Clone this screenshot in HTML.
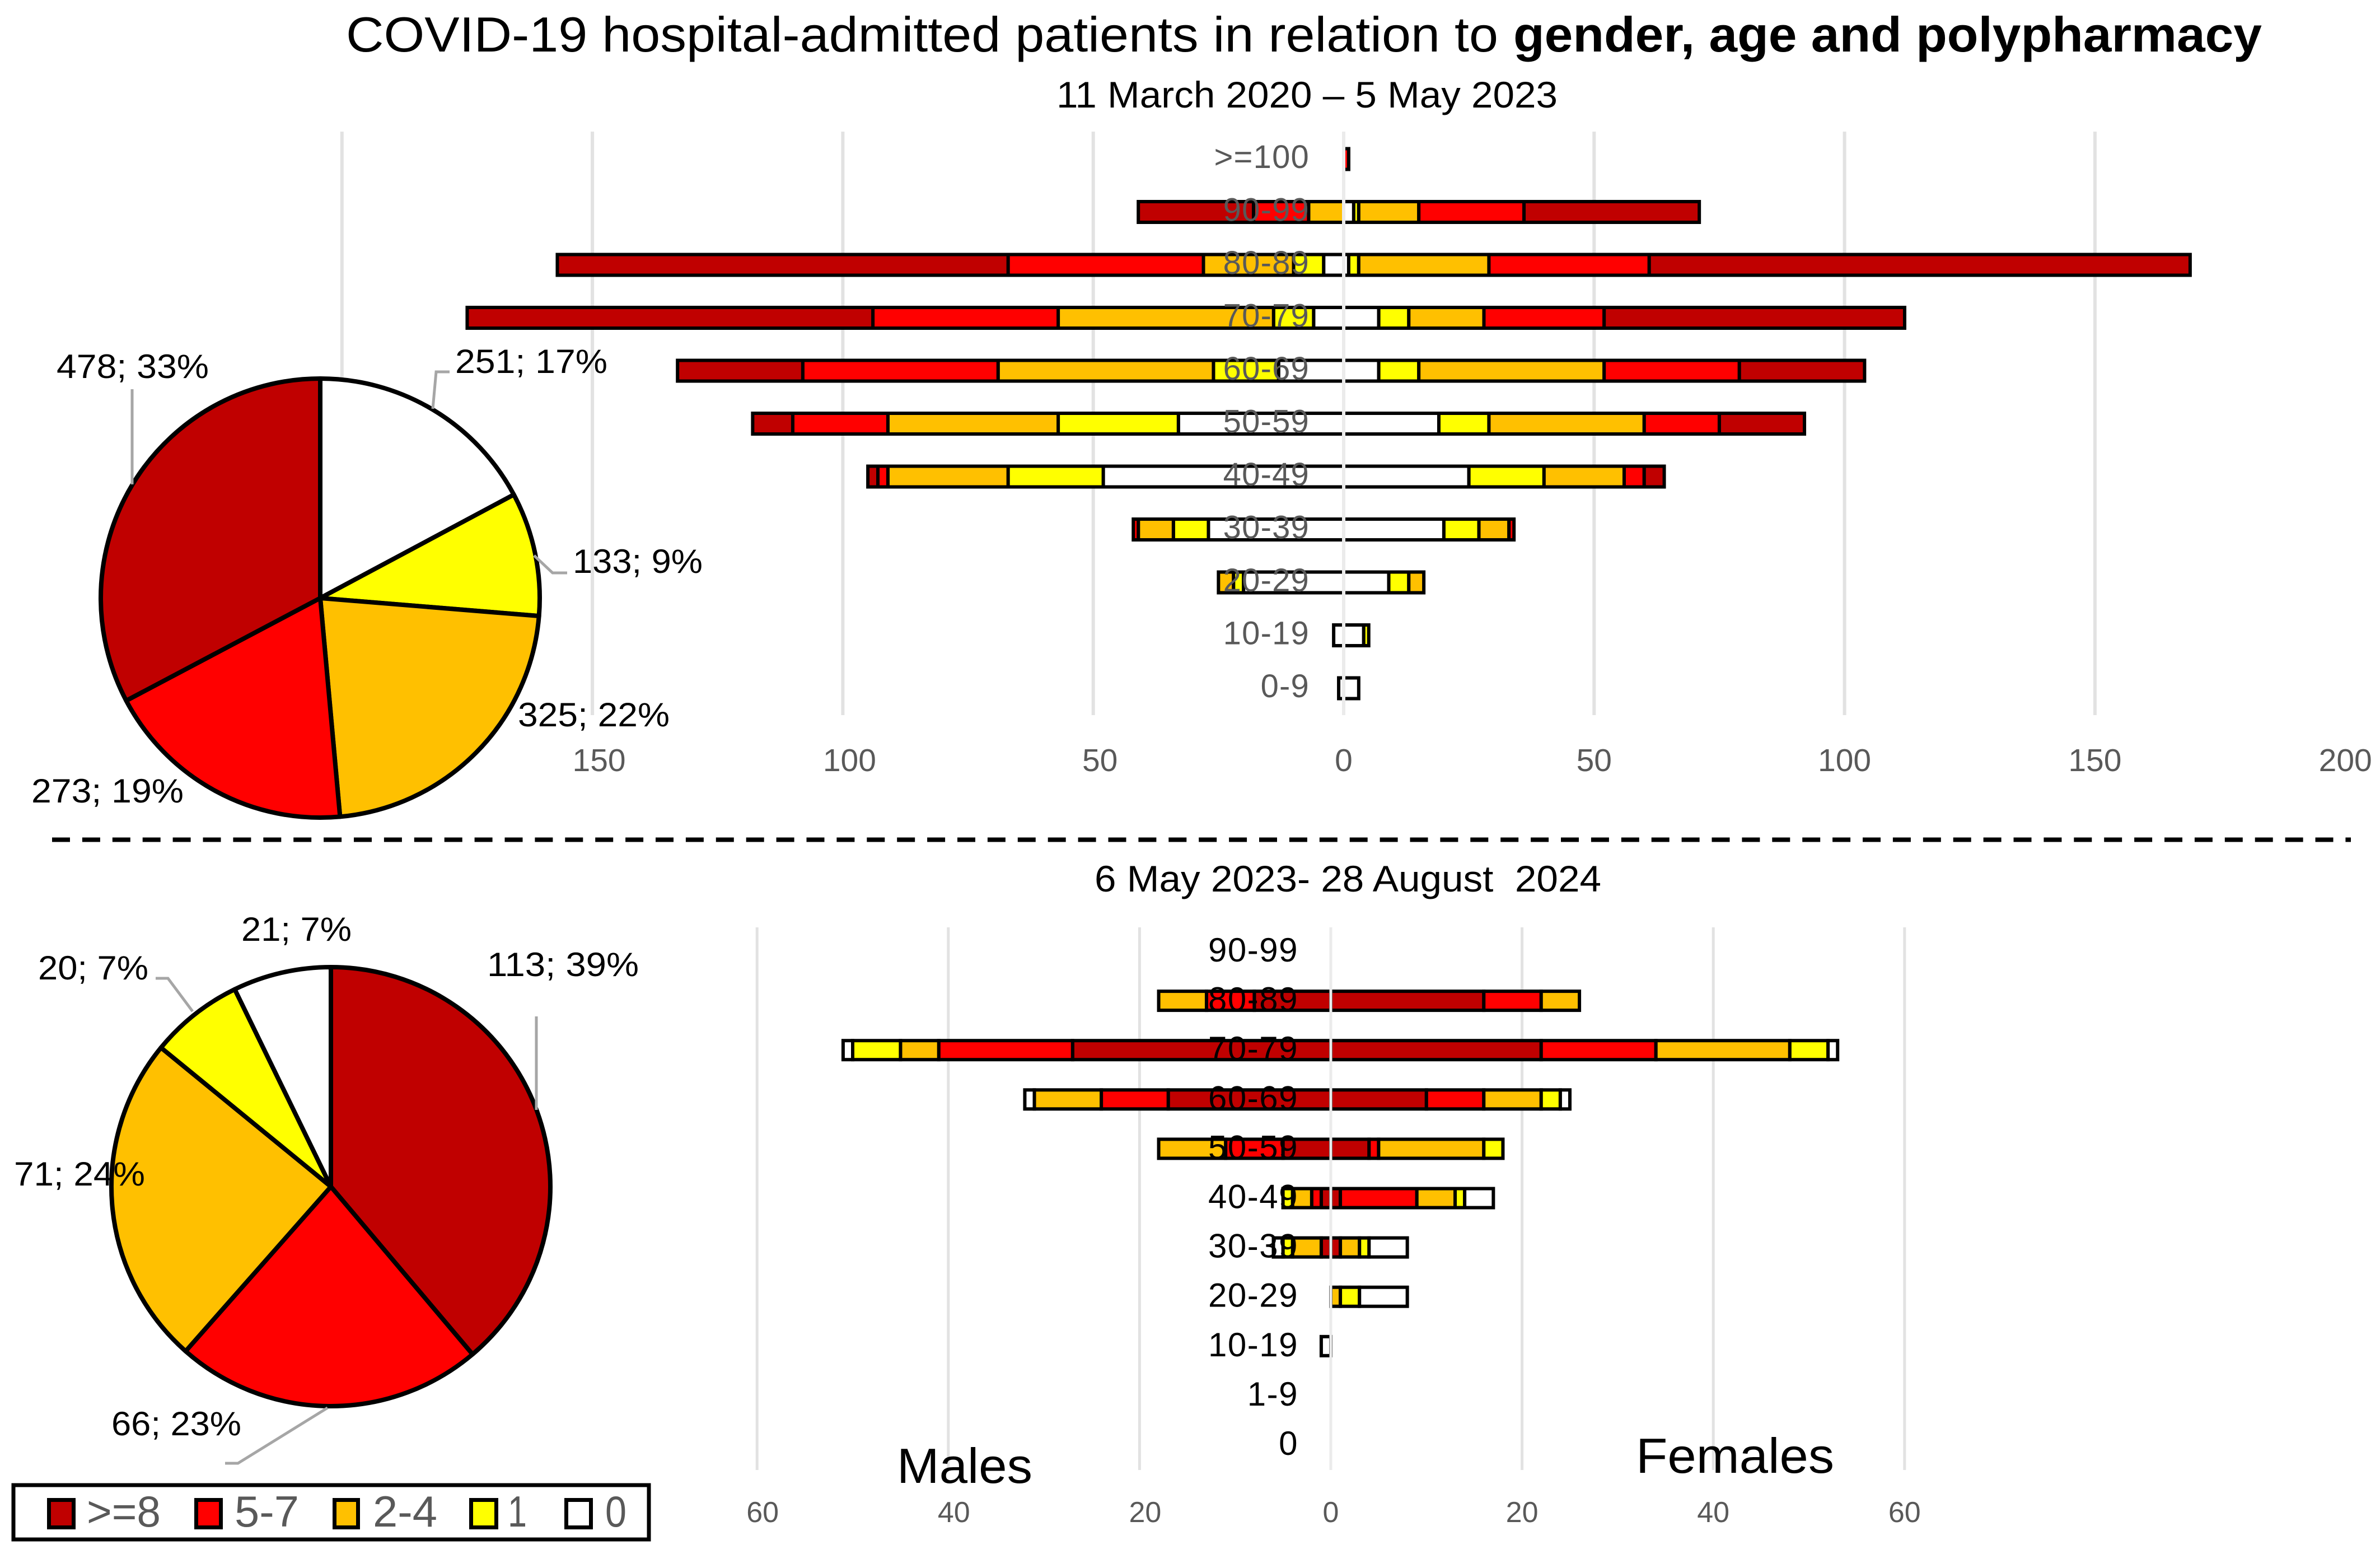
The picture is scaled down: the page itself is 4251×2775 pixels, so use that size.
<!DOCTYPE html>
<html lang="en">
<head>
<meta charset="utf-8">
<title>COVID-19 hospital-admitted patients</title>
<style>
  html, body { margin: 0; padding: 0; background: #ffffff; }
  svg { display: block; font-family: "Liberation Sans", sans-serif; }
</style>
</head>
<body>
<svg id="chart" xmlns="http://www.w3.org/2000/svg" width="4251" height="2775" viewBox="0 0 4251 2775">
  <rect x="0" y="0" width="4251" height="2775" fill="#ffffff"/>

  <g id="layer-top-grid"></g>
  <g id="layer-bottom-grid"></g>
  <g id="layer-top-bars"></g>
  <g id="layer-bottom-bars"></g>
  <g id="layer-zero"></g>
  <g id="layer-labels"></g>
  <g id="layer-pies"></g>

  <text x="618" y="92" font-size="88" fill="#000" textLength="2058" lengthAdjust="spacingAndGlyphs">COVID-19 hospital-admitted patients in relation to</text>
  <text x="2703" y="92" font-size="88" font-weight="700" fill="#000" textLength="1337" lengthAdjust="spacingAndGlyphs">gender, age and polypharmacy</text>
  <text x="1887" y="192" font-size="66" fill="#000" textLength="895" lengthAdjust="spacingAndGlyphs">11 March 2020 – 5 May 2023</text>
  <text x="1955" y="1592" font-size="66" fill="#000" textLength="905" lengthAdjust="spacingAndGlyphs" xml:space="preserve">6 May 2023- 28 August  2024</text>

  <line x1="93" y1="1499.5" x2="4199" y2="1499.5" stroke="#000" stroke-width="8" stroke-dasharray="32 21.9"/>

  <g fill="none" stroke="#a6a6a6" stroke-width="5">
    <polyline points="236,695 236,865"/>
    <polyline points="803,664 779,664 773,730"/>
    <polyline points="1013,1023 987,1023 954,992"/>
  </g>
  <g fill="none" stroke="#a6a6a6" stroke-width="5">
    <polyline points="958,1815 958,1982"/>
    <polyline points="278,1747 300,1747 344,1806"/>
    <polyline points="585,2514 425,2613 402,2613"/>
  </g>

  <g font-size="60" fill="#000">
    <text x="101" y="675" textLength="272" lengthAdjust="spacingAndGlyphs">478; 33%</text>
    <text x="813" y="666" textLength="272" lengthAdjust="spacingAndGlyphs">251; 17%</text>
    <text x="1023" y="1023" textLength="232" lengthAdjust="spacingAndGlyphs">133; 9%</text>
    <text x="925" y="1297" textLength="271" lengthAdjust="spacingAndGlyphs">325; 22%</text>
    <text x="56" y="1433" textLength="272" lengthAdjust="spacingAndGlyphs">273; 19%</text>
  </g>
  <g font-size="60" fill="#000">
    <text x="431" y="1680" textLength="197" lengthAdjust="spacingAndGlyphs">21; 7%</text>
    <text x="870" y="1743" textLength="271" lengthAdjust="spacingAndGlyphs">113; 39%</text>
    <text x="68" y="1749" textLength="197" lengthAdjust="spacingAndGlyphs">20; 7%</text>
    <text x="25" y="2117" textLength="234" lengthAdjust="spacingAndGlyphs">71; 24%</text>
    <text x="199" y="2563" textLength="232" lengthAdjust="spacingAndGlyphs">66; 23%</text>
  </g>

  <text x="1602" y="2648" font-size="88" fill="#000" textLength="242" lengthAdjust="spacingAndGlyphs">Males</text>
  <text x="2922" y="2630" font-size="88" fill="#000" textLength="354" lengthAdjust="spacingAndGlyphs">Females</text>

  <g>
    <rect x="24" y="2652" width="1135" height="97" fill="#fff" stroke="#000" stroke-width="7"/>
    <g stroke="#000" stroke-width="7" font-size="76">
      <rect x="87.5" y="2678.5" width="44" height="49" fill="#c00000"/>
      <rect x="350.5" y="2678.5" width="44" height="49" fill="#ff0000"/>
      <rect x="597.5" y="2678.5" width="42" height="49" fill="#ffc000"/>
      <rect x="841.5" y="2678.5" width="45" height="49" fill="#ffff00"/>
      <rect x="1011.5" y="2678.5" width="44" height="49" fill="#ffffff"/>
    </g>
    <g font-size="78" fill="#595959">
      <text x="155" y="2726" textLength="132" lengthAdjust="spacingAndGlyphs">&gt;=8</text>
      <text x="419" y="2726" textLength="115" lengthAdjust="spacingAndGlyphs">5-7</text>
      <text x="666" y="2726" textLength="115" lengthAdjust="spacingAndGlyphs">2-4</text>
      <text x="907" y="2726" textLength="34" lengthAdjust="spacingAndGlyphs">1</text>
      <text x="1081" y="2726" textLength="38" lengthAdjust="spacingAndGlyphs">0</text>
    </g>
  </g>
</svg>

<script>
// ---------- Period 1: 11 March 2020 – 5 May 2023 ----------
const topAgeGroups = ['>=100','90-99','80-89','70-79','60-69','50-59','40-49','30-39','20-29','10-19','0-9'];
const topMales0      = [0, 0, 4, 6,13,33,48,27,20, 2, 1];
const topMales1      = [0, 0, 6, 8,13,24,19, 7, 2, 0, 0];
const topMales2to4   = [0, 7,18,43,43,34,24, 7, 3, 0, 0];
const topMales5to7   = [0,11,39,37,39,19, 2, 1, 0, 0, 0];
const topMales8plus  = [0,23,90,81,25, 8, 2, 0, 0, 0, 0];
const topFemales0     = [0, 2, 1, 7, 7,19,25,20, 9, 4, 3];
const topFemales1     = [0, 1, 2, 6, 8,10,15, 7, 4, 1, 0];
const topFemales2to4  = [0,12,26,15,37,31,16, 6, 3, 0, 0];
const topFemales5to7  = [1,21,32,24,27,15, 4, 1, 0, 0, 0];
const topFemales8plus = [0,35,108,60,25,17, 4, 0, 0, 0, 0];
const topTickValues = [-200,-150,-100,-50,0,50,100,150,200];
const topGridValues = [-200,-150,-100,-50,0,50,100,150];
const topPieValues = [251,133,325,273,478];

// ---------- Period 2: 6 May 2023 – 28 August 2024 ----------
const bottomAgeGroups = ['90-99','80-89','70-79','60-69','50-59','40-49','30-39','20-29','10-19','1-9','0'];
const bottomMales8plus  = [0, 8,27,17, 5, 1, 1, 0, 0, 0, 0];
const bottomMales5to7   = [0, 5,14, 7, 6, 1, 0, 0, 0, 0, 0];
const bottomMales2to4   = [0, 5, 4, 7, 7, 2, 3, 0, 0, 0, 0];
const bottomMales1      = [0, 0, 5, 0, 0, 1, 1, 0, 0, 0, 0];
const bottomMales0      = [0, 0, 1, 1, 0, 0, 1, 0, 1, 0, 0];
const bottomFemales8plus = [0,16,22,10, 4, 1, 1, 0, 0, 0, 0];
const bottomFemales5to7  = [0, 6,12, 6, 1, 8, 0, 0, 0, 0, 0];
const bottomFemales2to4  = [0, 4,14, 6,11, 4, 2, 1, 0, 0, 0];
const bottomFemales1     = [0, 0, 4, 2, 2, 1, 1, 2, 0, 0, 0];
const bottomFemales0     = [0, 0, 1, 1, 0, 3, 4, 5, 0, 0, 0];
const bottomTickValues = [-60,-40,-20,0,20,40,60];
const bottomGridValues = [-60,-40,-20,0,20,40,60];
const bottomPieValues = [113,66,71,20,21];

const DARK = '#c00000', RED = '#ff0000', ORANGE = '#ffc000', YELLOW = '#ffff00', WHITE = '#ffffff';
const NS = 'http://www.w3.org/2000/svg';

function xTop(v) { return 2400 + v * 8.946; }
function xBottom(v) { return 2377 + v * 17.08; }
function yTop(i) { return 284 + i * 94.5; }
function yBottom(i) { return 1699 + i * 88.1; }

function make(tag, parent, attrs) {
  const el = document.createElementNS(NS, tag);
  for (const k in attrs) el.setAttribute(k, attrs[k]);
  parent.appendChild(el);
  return el;
}

function drawGrid(layerId, values, xFn, y1, y2, width, prefix) {
  const layer = document.getElementById(layerId);
  values.forEach(function (v) {
    if (v === 0) return;
    const el = make('line', layer, { x1: xFn(v), x2: xFn(v), y1: y1, y2: y2, stroke: '#e2e2e2', 'stroke-width': width });
    
    
  });
}

function drawStack(layer, xFn, yFn, height, strokeW, rows, series, colors, sign, prefix) {
  rows.forEach(function (row, i) {
    let running = 0;
    series.forEach(function (values, s) {
      const v = values[i];
      if (!v) return;
      const a = xFn(sign * running), b = xFn(sign * (running + v));
      const el = make('rect', layer, {
        x: Math.min(a, b), y: yFn(i) - height / 2,
        width: Math.abs(b - a), height: height,
        fill: colors[s], stroke: '#000', 'stroke-width': strokeW
      });
      
      
      running += v;
    });
  });
}

function drawTicks(values, xFn, y, size, negShift, prefix) {
  const layer = document.getElementById('layer-labels');
  values.forEach(function (v) {
    const x = xFn(v) + (v < 0 ? negShift : 0);
    const el = make('text', layer, { x: x, y: y, 'font-size': size, fill: '#595959', 'text-anchor': 'middle' });
    
    
    el.textContent = String(Math.abs(v));
  });
}

function drawCategories(rows, yFn, right, size, spacing, fill, dy, prefix) {
  const layer = document.getElementById('layer-labels');
  rows.forEach(function (label, i) {
    const el = make('text', layer, {
      x: right, y: yFn(i) + dy, 'font-size': size, fill: fill,
      'text-anchor': 'end', 'letter-spacing': spacing
    });
    
    
    el.textContent = label;
  });
}

function drawPie(values, colors, cx, cy, r, prefix) {
  const layer = document.getElementById('layer-pies');
  const total = values.reduce(function (a, b) { return a + b; }, 0);
  let angle = 0;
  values.forEach(function (v, i) {
    const end = angle + v / total * Math.PI * 2;
    const x1 = cx + r * Math.sin(angle), y1 = cy - r * Math.cos(angle);
    const x2 = cx + r * Math.sin(end), y2 = cy - r * Math.cos(end);
    const large = end - angle > Math.PI ? 1 : 0;
    const el = make('path', layer, {
      d: 'M' + cx + ' ' + cy + ' L' + x1 + ' ' + y1 + ' A' + r + ' ' + r + ' 0 ' + large + ' 1 ' + x2 + ' ' + y2 + ' Z',
      fill: colors[i], stroke: '#000', 'stroke-width': 8, 'stroke-linejoin': 'round'
    });
    
    
    angle = end;
  });
}

drawGrid('layer-top-grid', topGridValues, xTop, 235, 1277, 6, 'top');
drawGrid('layer-bottom-grid', bottomGridValues, xBottom, 1656, 2625, 5, 'bottom');

const topLayer = document.getElementById('layer-top-bars');
const topColors = [WHITE, YELLOW, ORANGE, RED, DARK];
drawStack(topLayer, xTop, yTop, 37, 6, topAgeGroups, [topMales0, topMales1, topMales2to4, topMales5to7, topMales8plus], topColors, -1, 'top-male');
drawStack(topLayer, xTop, yTop, 37, 6, topAgeGroups, [topFemales0, topFemales1, topFemales2to4, topFemales5to7, topFemales8plus], topColors, 1, 'top-female');

const bottomLayer = document.getElementById('layer-bottom-bars');
const bottomColors = [DARK, RED, ORANGE, YELLOW, WHITE];
drawStack(bottomLayer, xBottom, yBottom, 34, 6, bottomAgeGroups, [bottomMales8plus, bottomMales5to7, bottomMales2to4, bottomMales1, bottomMales0], bottomColors, -1, 'bottom-male');
drawStack(bottomLayer, xBottom, yBottom, 34, 6, bottomAgeGroups, [bottomFemales8plus, bottomFemales5to7, bottomFemales2to4, bottomFemales1, bottomFemales0], bottomColors, 1, 'bottom-female');

const zeroLayer = document.getElementById('layer-zero');
const zeroTop = make('line', zeroLayer, { x1: xTop(0), x2: xTop(0), y1: 235, y2: 1277, stroke: '#ebebeb', 'stroke-width': 6 });


const zeroBottom = make('line', zeroLayer, { x1: xBottom(0), x2: xBottom(0), y1: 1656, y2: 2625, stroke: '#ebebeb', 'stroke-width': 5 });



drawCategories(topAgeGroups, yTop, 2339, 58, 1.2, '#595959', 16, 'top');
drawCategories(bottomAgeGroups, yBottom, 2319, 60, 1.5, '#000000', 18, 'bottom');
drawTicks(topTickValues, xTop, 1377, 57, 12, 'top');
drawTicks(bottomTickValues, xBottom, 2718, 52, 10, 'bottom');

drawPie(topPieValues, [WHITE, YELLOW, ORANGE, RED, DARK], 572, 1068, 392, 'top');
drawPie(bottomPieValues, [DARK, RED, ORANGE, YELLOW, WHITE], 591, 2119, 392, 'bottom');
</script>
</body>
</html>
